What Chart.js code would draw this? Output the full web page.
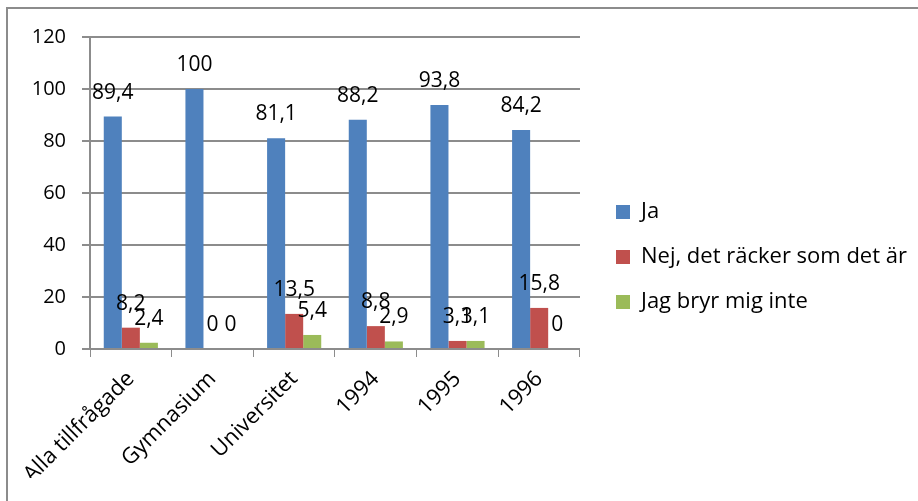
<!DOCTYPE html>
<html>
<head>
<meta charset="utf-8">
<script src="https://cdn.jsdelivr.net/npm/chart.js@4/dist/chart.umd.min.js"></script>
<style>
  html, body { margin: 0; padding: 0; background: #fff; overflow: hidden; }
  #frame {
    position: absolute; left: 6px; top: 7px;
    width: 930px; height: 500px;
    border-left: 2px solid #8c8c8c; border-top: 2px solid #8c8c8c;
  }
  #wrap { position: absolute; left: 0; top: 0; width: 910px; height: 492px; }
</style>
</head>
<body>
<div id="frame">
  <div id="wrap"><canvas id="surveyChart"></canvas></div>
</div>
<script>
// Categories and series
const categories = ['Alla tillfrågade', 'Gymnasium', 'Universitet', '1994', '1995', '1996'];
const jaValues = [89.4, 100, 81.1, 88.2, 93.8, 84.2];
const nejValues = [8.2, 0, 13.5, 8.8, 3.1, 15.8];
const bryrValues = [2.4, 0, 5.4, 2.9, 3.1, 0];
const seriesNames = ['Ja', 'Nej, det räcker som det är', 'Jag bryr mig inte'];
const yTicks = [0, 20, 40, 60, 80, 100, 120];

const FONT = '"Open Sans", sans-serif';
const gridColor = '#8c8c8c';

// Draws the value over each bar, with a decimal comma
const valueLabels = {
  id: 'valueLabels',
  afterDatasetsDraw(chart) {
    const ctx = chart.ctx;
    ctx.save();
    ctx.font = '21px ' + FONT;
    ctx.fillStyle = '#000';
    ctx.textAlign = 'center';
    ctx.textBaseline = 'middle';
    chart.data.datasets.forEach((ds, i) => {
      chart.getDatasetMeta(i).data.forEach((bar, j) => {
        const txt = String(ds.data[j]).replace('.', ',');
        ctx.fillText(txt, bar.x, bar.y - 24);
      });
    });
    ctx.restore();
  }
};

document.addEventListener('DOMContentLoaded', function () {
  const ctx = document.getElementById('surveyChart');
  if (!ctx) {
    console.error('Canvas element not found');
    return;
  }

  new Chart(ctx, {
    type: 'bar',
    data: {
      labels: categories,
      datasets: [
        { label: seriesNames[0], data: jaValues, backgroundColor: '#4f81bd' },
        { label: seriesNames[1], data: nejValues, backgroundColor: '#c0504d' },
        { label: seriesNames[2], data: bryrValues, backgroundColor: '#9bbb59' }
      ]
    },
    options: {
      responsive: true,
      maintainAspectRatio: false,
      animation: false,
      categoryPercentage: 0.663,
      barPercentage: 1,
      layout: { padding: { top: 27, bottom: 23, left: 0, right: 1 } },
      plugins: {
        tooltip: { enabled: false },
        legend: {
          position: 'right',
          maxWidth: 420,
          labels: {
            color: '#000',
            font: { family: FONT, size: 22 },
            boxWidth: 14,
            boxHeight: 14,
            padding: 23
          }
        }
      },
      scales: {
        x: {
          offset: true,
          grid: {
            offset: true,
            drawOnChartArea: false,
            drawTicks: true,
            tickLength: 8,
            color: gridColor
          },
          border: { color: gridColor, width: 2 },
          ticks: {
            color: '#000',
            font: { family: FONT, size: 22 },
            minRotation: 45,
            maxRotation: 45,
            padding: 9
          },
          afterFit(scale) { scale.height = 129; }
        },
        y: {
          min: 0,
          max: 120,
          afterBuildTicks(scale) { scale.ticks = yTicks.map(v => ({ value: v })); },
          grid: { color: gridColor, lineWidth: 2, tickLength: 8 },
          border: { color: gridColor, width: 2 },
          ticks: {
            color: '#000',
            font: { family: FONT, size: 20 },
            padding: 16
          },
          afterFit(scale) { scale.width = 82; }
        },
        // empty axis, only keeps a gap between the plot and the legend
        gap: {
          position: 'right',
          display: true,
          grid: { display: false },
          border: { display: false },
          ticks: { display: false },
          afterFit(scale) { scale.width = 13; }
        }
      }
    },
    plugins: [valueLabels]
  });
});
</script>
</body>
</html>
